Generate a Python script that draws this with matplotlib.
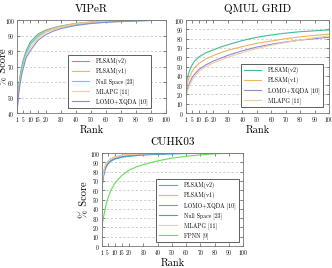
import matplotlib
matplotlib.use("Agg")
import matplotlib.pyplot as plt

plt.rcParams["font.family"] = ["cmr10", "DejaVu Serif"]
plt.rcParams["axes.formatter.use_mathtext"] = True
plt.rcParams["mathtext.fontset"] = "cm"

# ─── data ──────────────────────────────────────────────────────────────
ranks = [1, 2, 3, 4, 5, 7, 10, 15, 20, 25, 30, 40, 50, 60, 70, 80, 90, 100]
rank_ticks = [1, 5, 10, 15, 20, 30, 40, 50, 60, 70, 80, 90, 100]

viper_plsam_v2 = [43.0, 55.5, 63.5, 69.0, 73.5, 80.0, 86.0, 91.0, 93.5, 95.0, 96.2, 97.8, 98.7, 99.2, 99.5, 99.7, 99.9, 100]
viper_plsam_v1 = [41.0, 53.0, 61.0, 66.5, 71.0, 78.0, 84.5, 90.0, 93.0, 94.8, 96.0, 97.8, 98.8, 99.3, 99.6, 99.8, 99.9, 100]
viper_nullspace = [42.3, 54.0, 61.5, 67.0, 71.5, 78.5, 84.5, 89.5, 92.2, 94.0, 95.5, 97.0, 98.0, 98.6, 99.1, 99.4, 99.7, 100]
viper_mlapg = [40.7, 52.5, 60.0, 65.5, 69.5, 77.0, 82.5, 88.5, 92.0, 94.0, 95.5, 97.5, 98.6, 99.2, 99.5, 99.7, 99.9, 100]
viper_lomo = [40.0, 51.0, 58.5, 64.0, 68.0, 75.5, 80.5, 87.0, 90.5, 92.8, 94.5, 96.5, 97.8, 98.6, 99.1, 99.5, 99.8, 100]

grid_plsam_v2 = [30.0, 38.0, 43.5, 47.5, 51.0, 56.0, 60.5, 65.0, 68.0, 71.0, 73.5, 78.0, 81.5, 84.0, 86.0, 87.5, 88.5, 89.5]
grid_plsam_v1 = [25.0, 32.0, 37.0, 40.5, 44.0, 49.0, 53.5, 58.5, 62.0, 65.0, 67.5, 71.5, 75.0, 77.5, 80.0, 82.0, 83.5, 85.0]
grid_lomo = [18.6, 26.0, 30.5, 34.0, 37.5, 42.0, 47.0, 52.0, 56.0, 59.0, 62.0, 67.0, 71.0, 74.0, 76.5, 78.5, 80.0, 81.5]
grid_mlapg = [16.6, 23.5, 28.0, 31.5, 34.5, 39.5, 45.0, 50.0, 54.0, 57.0, 60.0, 65.0, 69.5, 73.0, 76.0, 78.5, 81.0, 83.0]

cuhk_plsam_v2 = [66.0, 78.0, 84.5, 88.0, 90.5, 93.5, 95.5, 97.0, 97.8, 98.4, 98.8, 99.3, 99.6, 99.8, 99.9, 100, 100, 100]
cuhk_plsam_v1 = [64.0, 77.0, 84.0, 88.0, 90.5, 93.5, 95.8, 97.5, 98.3, 98.8, 99.1, 99.5, 99.7, 99.8, 99.9, 100, 100, 100]
cuhk_lomo = [62.0, 74.5, 81.0, 85.0, 88.0, 91.5, 94.0, 96.0, 97.2, 97.9, 98.4, 99.0, 99.4, 99.6, 99.8, 99.9, 100, 100]
cuhk_nullspace = [62.5, 75.0, 81.5, 85.5, 88.0, 91.0, 93.5, 95.5, 96.5, 97.2, 97.8, 98.6, 99.1, 99.4, 99.7, 99.9, 100, 100]
cuhk_mlapg = [64.5, 77.5, 84.5, 88.5, 90.5, 93.5, 95.5, 97.3, 98.2, 98.7, 99.0, 99.5, 99.7, 99.8, 99.9, 100, 100, 100]
cuhk_fpnn = [20.7, 30.0, 38.5, 45.0, 50.5, 59.0, 67.5, 76.0, 81.5, 85.0, 87.5, 91.5, 94.5, 96.5, 98.0, 99.2, 99.7, 100]

# ─── colours ──────────────────────────────────────────────────────────
C_V2 = "#45b99b"
C_V1 = "#f0b45c"
C_NS = "#6ccbe0"
C_NS2 = "#3d9fd3"
C_ML = "#f5c9a3"
C_LO = "#8a8ccc"
C_FP = "#66dd55"


def style_axes(ax, ymin, title):
    ax.set_xlim(1, 100)
    ax.set_ylim(ymin, 100)
    ax.set_xticks(rank_ticks)
    ax.set_yticks(range(ymin, 101, 10))
    ax.tick_params(direction="in", length=2, width=0.5, labelsize=4.0,
                   top=True, right=True, pad=1.5, colors="#555555",
                   labelcolor="black")
    ax.grid(axis="y", linestyle=(0, (3, 3)), linewidth=0.5, color="#bbbbbb")
    for s in ax.spines.values():
        s.set_color("#777777")
        s.set_linewidth(0.6)
    ax.set_title(title, fontsize=8, pad=6)
    ax.set_xlabel("Rank", fontsize=7.5, labelpad=1)


def legend(ax, anchor):
    leg = ax.legend(loc="lower right", bbox_to_anchor=anchor,
                    fontsize=4.2, handlelength=3.0,
                    handletextpad=1.2, labelspacing=0.55, borderpad=0.55,
                    fancybox=False, framealpha=1, edgecolor="#444444",
                    borderaxespad=0)
    leg.get_frame().set_linewidth(0.6)


fig = plt.figure(figsize=(3.32, 2.68), dpi=100)

# ── VIPeR ──
ax1 = fig.add_axes([0.051, 0.578, 0.449, 0.347])
ax1.plot(ranks, viper_plsam_v2, color=C_V2, lw=0.8, label="PLSAM(v2)")
ax1.plot(ranks, viper_plsam_v1, color=C_V1, lw=0.8, label="PLSAM(v1)")
ax1.plot(ranks, viper_nullspace, color=C_NS, lw=0.8, label="Null Space [23]")
ax1.plot(ranks, viper_mlapg, color=C_ML, lw=0.8, label="MLAPG [11]")
ax1.plot(ranks, viper_lomo, color=C_LO, lw=0.8, label="LOMO+XQDA [10]")
style_axes(ax1, 40, "VIPeR")
ax1.set_ylabel("% Score", fontsize=7.5)
ax1.yaxis.set_label_coords(-0.06, 0.5)
legend(ax1, (0.90, 0.055))

# ── QMUL GRID ──
ax2 = fig.add_axes([0.560, 0.578, 0.431, 0.347])
ax2.plot(ranks, grid_plsam_v2, color=C_V2, lw=0.8, label="PLSAM(v2)")
ax2.plot(ranks, grid_plsam_v1, color=C_V1, lw=0.8, label="PLSAM(v1)")
ax2.plot(ranks, grid_lomo, color=C_LO, lw=0.8, label="LOMO+XQDA [10]")
ax2.plot(ranks, grid_mlapg, color=C_ML, lw=0.8, label="MLAPG [11]")
style_axes(ax2, 0, "QMUL GRID")
legend(ax2, (0.96, 0.065))

# ── CUHK03 ──
ax3 = fig.add_axes([0.307, 0.082, 0.425, 0.347])
ax3.plot(ranks, cuhk_plsam_v2, color=C_V2, lw=0.8, label="PLSAM(v2)")
ax3.plot(ranks, cuhk_plsam_v1, color=C_V1, lw=0.8, label="PLSAM(v1)")
ax3.plot(ranks, cuhk_lomo, color=C_LO, lw=0.8, label="LOMO+XQDA [10]")
ax3.plot(ranks, cuhk_nullspace, color=C_NS2, lw=0.8, label="Null Space [23]")
ax3.plot(ranks, cuhk_mlapg, color=C_ML, lw=0.8, label="MLAPG [11]")
ax3.plot(ranks, cuhk_fpnn, color=C_FP, lw=0.8, label="FPNN [9]")
style_axes(ax3, 0, "CUHK03")
ax3.set_ylabel("% Score", fontsize=7.5)
ax3.yaxis.set_label_coords(-0.09, 0.5)
legend(ax3, (0.97, 0.045))

fig.savefig("out.png", dpi=100)
